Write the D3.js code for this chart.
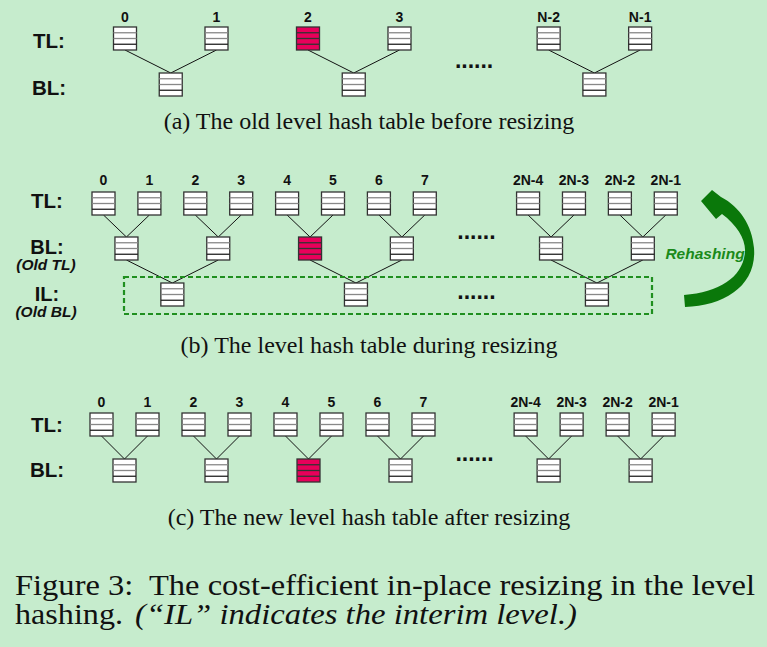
<!DOCTYPE html>
<html><head><meta charset="utf-8">
<script src="https://cdn.jsdelivr.net/npm/d3@7"></script>
<style>
html,body{margin:0;padding:0;background:#C6ECCD;}
svg{display:block;}
text{white-space:pre;}
</style></head>
<body>
<script>
// ---------- data ----------
const topLabelsA = ["0","1","2","3","N-2","N-1"];
const topLabelsBC = ["0","1","2","3","4","5","6","7","2N-4","2N-3","2N-2","2N-1"];
const highlightA_TL = [2];
const highlightB_BL = [2];
const highlightC_BL = [2];
const captionA = "(a) The old level hash table before resizing";
const captionB = "(b) The level hash table during resizing";
const captionC = "(c) The new level hash table after resizing";
const figLine1 = "Figure 3:  The cost-efficient in-place resizing in the level";
const figLine2a = "hashing.";
const figLine2b = "(\u201CIL\u201D indicates the interim level.)";

// ---------- layout ----------
const W = 767, H = 647;
const BOX = 23;
const svg = d3.select("body").append("svg").attr("width", W).attr("height", H);
svg.append("rect").attr("width", W).attr("height", H).attr("fill", "#C6ECCD");

const RED = "#E8005A";
const SANS = "'Liberation Sans', Arial, sans-serif";
const SERIF = "'Liberation Serif', 'Times New Roman', serif";

function slotScale(x0, step, gapAt, gapSlots) {
  const lin = d3.scaleLinear().domain([0, 1]).range([x0, x0 + step]);
  const f = i => lin(i + (i >= gapAt ? gapSlots : 0));
  f.gapCenter = () => (lin(gapAt - 1) + lin(gapAt + gapSlots)) / 2;
  return f;
}

function drawBox(g, cx, top, red) {
  const x = cx - BOX / 2;
  const b = g.append("g");
  b.append("rect").attr("x", x).attr("y", top).attr("width", BOX).attr("height", BOX)
    .attr("fill", red ? RED : "#fff").attr("stroke", "#333").attr("stroke-width", 1.3);
  const rows = d3.range(1, 4);
  b.selectAll("line").data(rows).join("line")
    .attr("x1", x).attr("x2", x + BOX)
    .attr("y1", d => top + d * BOX / 4).attr("y2", d => top + d * BOX / 4)
    .attr("stroke", d => red ? "#333" : (d === 3 ? "#222" : "#888"))
    .attr("stroke-width", 1.3);
}

function link(g, x1, y1, x2, y2) {
  g.append("line").attr("x1", x1).attr("y1", y1).attr("x2", x2).attr("y2", y2)
    .attr("stroke", "#111").attr("stroke-width", 1);
}

function label(g, x, y, txt, size, italic) {
  g.append("text").attr("x", x).attr("y", y).attr("text-anchor", "middle")
    .attr("font-family", SANS).attr("font-weight", "bold")
    .attr("font-style", italic ? "italic" : "normal")
    .attr("font-size", size).attr("fill", "#111").text(txt);
}

function dots(g, x, y) {
  g.append("text").attr("x", x).attr("y", y).attr("text-anchor", "middle")
    .attr("font-family", SANS).attr("font-weight", "bold").attr("font-size", 23)
    .attr("fill", "#111").text("......");
}

function caption(g, y, txt) {
  g.append("text").attr("x", 369).attr("y", y).attr("text-anchor", "middle")
    .attr("font-family", SERIF).attr("font-size", 24).attr("fill", "#111").text(txt);
}

function panel(opts) {
  const g = svg.append("g");
  const xs = opts.scale;
  const tl = opts.labels.map((d, i) => ({ label: d, x: xs(i) }));
  const bl = d3.range(tl.length / 2).map(j => ({ x: (tl[2 * j].x + tl[2 * j + 1].x) / 2 }));
  bl.forEach((b, j) => {
    [tl[2 * j], tl[2 * j + 1]].forEach(t => link(g, t.x, opts.tlTop + BOX, b.x, opts.blTop));
  });
  let il = [];
  if (opts.ilTop !== undefined) {
    il = d3.range(bl.length / 2).map(k => ({ x: (bl[2 * k].x + bl[2 * k + 1].x) / 2 }));
    il.forEach((c, k) => {
      [bl[2 * k], bl[2 * k + 1]].forEach(b => link(g, b.x, opts.blTop + BOX, c.x, opts.ilTop));
    });
  }
  tl.forEach((t, i) => {
    drawBox(g, t.x, opts.tlTop, (opts.redTL || []).includes(i));
    label(g, t.x, opts.numY, t.label, 14);
  });
  bl.forEach((b, j) => drawBox(g, b.x, opts.blTop, (opts.redBL || []).includes(j)));
  il.forEach(c => drawBox(g, c.x, opts.ilTop, false));
  return { g, tl, bl, il };
}

// ---- panel (a)
const sA = slotScale(125, 91.5, 4, 0.63);
const pA = panel({ scale: sA, labels: topLabelsA, tlTop: 27, blTop: 73, numY: 22, redTL: highlightA_TL });
label(pA.g, 49, 48, "TL:", 20.5);
label(pA.g, 49, 95, "BL:", 20.5);
dots(pA.g, sA.gapCenter(), 68);
caption(pA.g, 129, captionA);

// ---- panel (b)
const sB = slotScale(103.5, 45.9, 8, 1.25);
const pB = panel({ scale: sB, labels: topLabelsBC, tlTop: 192, blTop: 237, ilTop: 283, numY: 185, redBL: highlightB_BL });
label(pB.g, 47, 208, "TL:", 20.5);
label(pB.g, 47, 254, "BL:", 20);
label(pB.g, 46, 270, "(Old TL)", 15.5, true);
label(pB.g, 47, 301, "IL:", 20);
label(pB.g, 46, 317, "(Old BL)", 15.5, true);
dots(pB.g, sB.gapCenter(), 239);
dots(pB.g, sB.gapCenter(), 299);
pB.g.append("rect").attr("x", 124).attr("y", 277).attr("width", 528).attr("height", 37)
  .attr("fill", "none").attr("stroke", "#1F8F1F").attr("stroke-width", 2.2)
  .attr("stroke-dasharray", "5,3");
pB.g.append("path")
  .attr("d", "M684,295 L685,307 C725,306 757,285 754,248 C752,225 740,207 721,197 L712,190 L701,201 L716,219 L722,214 C737,225 746,240 745,252 C743,277 720,292 684,295 Z")
  .attr("fill", "#0A780A");
pB.g.append("text").attr("x", 705).attr("y", 259).attr("text-anchor", "middle")
  .attr("font-family", SANS).attr("font-weight", "bold").attr("font-style", "italic")
  .attr("font-size", 15.5).attr("fill", "#1A8A1A").text("Rehashing");
caption(pB.g, 353, captionB);

// ---- panel (c)
const sC = slotScale(101.5, 46, 8, 1.22);
const pC = panel({ scale: sC, labels: topLabelsBC, tlTop: 413, blTop: 459, numY: 407, redBL: highlightC_BL });
label(pC.g, 47, 432, "TL:", 20.5);
label(pC.g, 47, 477, "BL:", 20.5);
dots(pC.g, sC.gapCenter(), 461);
caption(pC.g, 525, captionC);

// ---- figure caption
svg.append("text").attr("x", 15).attr("y", 595).attr("font-family", SERIF)
  .attr("font-size", 28.5).attr("fill", "#111")
  .attr("textLength", 740).attr("lengthAdjust", "spacingAndGlyphs").text(figLine1);
svg.append("text").attr("x", 15).attr("y", 624).attr("font-family", SERIF)
  .attr("font-size", 28.5).attr("fill", "#111")
  .attr("textLength", 108).attr("lengthAdjust", "spacingAndGlyphs").text(figLine2a);
svg.append("text").attr("x", 135).attr("y", 624).attr("font-family", SERIF)
  .attr("font-size", 28.5).attr("font-style", "italic").attr("fill", "#111")
  .attr("textLength", 442).attr("lengthAdjust", "spacingAndGlyphs").text(figLine2b);
</script>
</body></html>
